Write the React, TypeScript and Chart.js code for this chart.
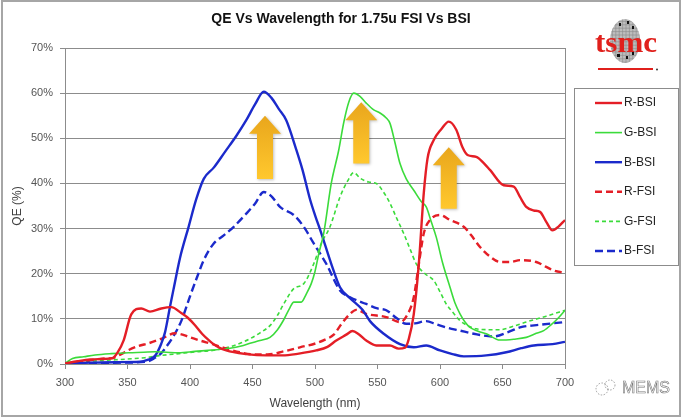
import { useEffect, useRef } from 'react';
import { Chart, registerables } from 'chart.js';

Chart.register(...registerables);

// wavelengths (nm) and QE (%), one pair per curve
const rBsiNm = [300, 310, 320, 330, 338, 342, 347, 353, 361, 368, 377, 385, 393, 398, 404, 410, 415, 421, 429, 445, 461, 474, 487, 501, 510, 517, 525, 530, 535, 541, 549, 560, 567, 572, 575, 579, 583, 587, 590, 595, 601, 607, 613, 618, 622, 629, 635, 640, 651, 659, 664, 669, 675, 680, 685, 690, 695, 700];
const rBsiQe = [0.1, 0.6, 1, 1.1, 1.3, 2.5, 5.3, 11, 12.3, 11.6, 12.3, 12.6, 11.3, 10.3, 8.6, 6.6, 5.3, 4, 3, 2.2, 1.9, 1.9, 2.3, 3, 3.8, 5.2, 6.5, 7.3, 6.6, 5.2, 4.1, 4.1, 3.4, 3.6, 5.5, 11, 22, 37.8, 45.5, 49.6, 52, 53.7, 51.9, 48, 46.3, 45.9, 44.5, 43, 39.6, 39.3, 37, 34.8, 34, 33.7, 31.5, 29.6, 30.5, 31.9];

const gBsiNm = [300, 306, 315, 324, 337, 351, 363, 372, 381, 391, 404, 418, 432, 441, 448, 456, 464, 470, 475, 480, 483, 489, 493, 497, 500, 503, 507, 513, 519, 523, 527, 531, 536, 541, 547, 552, 557, 560, 564, 568, 573, 579, 585, 589, 593, 597, 602, 608, 612, 616, 620, 624, 630, 637, 648, 659, 669, 677, 683, 689, 695, 700];
const gBsiQe = [0.1, 1.2, 1.6, 2, 2.3, 2.5, 2.6, 2.7, 2.6, 2.5, 2.8, 3.1, 3.5, 4, 4.6, 5.2, 5.9, 7.6, 9.8, 12.5, 13.7, 13.7, 15.5, 17.8, 20.5, 24.4, 29, 40, 47.4, 53.5, 58, 60, 59.3, 57.8, 56.3, 55.6, 54.5, 53.3, 49, 44.4, 41, 38.5, 36, 34.8, 31.5, 28.1, 22.5, 17, 13.5, 11.1, 9.3, 8.1, 7.3, 6.7, 5.3, 5.5, 5.9, 6.8, 7.4, 8.7, 10.3, 11.9];

const bBsiNm = [300, 320, 340, 360, 366, 372, 377, 380, 384, 387, 392, 399, 405, 411, 419, 428, 437, 445, 452, 459, 465, 471, 477, 485, 490, 496, 500, 505, 513, 520, 528, 538, 544, 555, 568, 579, 589, 600, 610, 619, 637, 653, 665, 675, 690, 700];
const bBsiQe = [0.1, 0.3, 0.4, 0.5, 0.9, 1.8, 4.5, 7, 12.7, 16.8, 23.5, 30.5, 36.5, 41, 43.5, 47, 50.5, 54, 57.5, 60.3, 59, 56.5, 54, 47.5, 43, 36.5, 33, 29, 22.2, 17, 14.6, 12, 9.5, 6.7, 4.4, 3.7, 4.1, 3, 2.2, 1.7, 1.9, 2.6, 3.5, 4.1, 4.4, 4.9];

const rFsiNm = [300, 312, 322, 330, 338, 345, 351, 359, 367, 378, 388, 394, 399, 408, 418, 428, 440, 452, 462, 475, 488, 501, 508, 515, 521, 528, 533, 541, 557, 568, 573, 579, 583, 587, 592, 600, 608, 619, 625, 632, 640, 648, 656, 664, 677, 685, 691, 700];
const rFsiQe = [0.1, 0.5, 0.9, 1.2, 1.3, 2.2, 3.1, 4, 4.6, 5.7, 6.8, 6.5, 6, 5.2, 4.4, 3.5, 2.6, 2.1, 2.1, 2.8, 3.7, 4.6, 5.4, 6.5, 8.8, 11.1, 12, 11.1, 10.4, 9.3, 10.5, 14.8, 22, 28.9, 31.9, 33, 31.9, 30.4, 28.5, 25.9, 23.8, 22.6, 22.6, 23, 22.6, 21.5, 20.7, 20.2];

const gFsiNm = [300, 311, 325, 338, 350, 364, 377, 391, 405, 418, 432, 441, 448, 456, 464, 470, 475, 483, 491, 499, 505, 512, 520, 526, 531, 536, 543, 549, 555, 560, 565, 571, 576, 581, 588, 595, 600, 605, 611, 616, 622, 629, 640, 648, 658, 669, 685, 700];
const gFsiQe = [0, 0.5, 0.7, 0.9, 1.1, 1.4, 1.9, 2.3, 2.7, 3, 3.8, 4.7, 5.6, 6.9, 8.5, 10.8, 13.3, 16.7, 17.8, 22.2, 26.7, 30.4, 37, 40.5, 42.4, 41.2, 40.3, 40, 38, 35.6, 32.5, 28.9, 25.5, 22.2, 20, 18.5, 16, 13.3, 11.2, 9.6, 8.5, 7.8, 7.6, 7.6, 8.3, 9.3, 10.6, 11.9];

const bFsiNm = [300, 320, 345, 365, 371, 377, 381, 386, 393, 400, 406, 411, 419, 427, 435, 445, 452, 459, 465, 472, 483, 491, 499, 509, 520, 528, 541, 550, 557, 566, 573, 580, 589, 597, 605, 616, 627, 643, 654, 664, 680, 700];
const bFsiQe = [0.1, 0.2, 0.3, 0.5, 1.2, 2.4, 3.8, 5.8, 9.5, 15, 19.5, 23, 26.7, 28.5, 30.4, 33.3, 35.5, 38.1, 37.2, 34.8, 33, 30.4, 26.7, 22.2, 16.3, 14.8, 13.3, 12.3, 11.9, 10, 8.9, 9, 9.5, 8.8, 8.1, 7.4, 6.7, 6.1, 7, 8.1, 8.7, 9.3];

// the three "improvement" arrows: wavelength, base and tip in QE %
const arrowNm = [460, 537, 607];
const arrowFrom = [41, 44.4, 34.4];
const arrowTo = [55, 58, 48];

const RED = '#E41E26';
const GREEN = '#3BDB3B';
const BLUE = '#1B2ACB';
const FONT = 'Arial, "Liberation Sans", sans-serif';

const pts = (nm: number[], qe: number[]) => nm.map((x, i) => ({ x, y: qe[i] }));

const frameLine = {
  id: 'frameLine',
  beforeDatasetsDraw(chart: any) {
    const { ctx, chartArea: a } = chart;
    ctx.save();
    ctx.strokeStyle = '#8c8c8c';
    ctx.lineWidth = 1;
    ctx.beginPath();
    ctx.moveTo(Math.round(a.right) + 0.5, a.top);
    ctx.lineTo(Math.round(a.right) + 0.5, a.bottom);
    ctx.stroke();
    ctx.restore();
  },
};

const arrows = {
  id: 'arrows',
  afterDatasetsDraw(chart: any) {
    const { ctx, scales } = chart;
    ctx.save();
    arrowNm.forEach((nm, i) => {
      const cx = scales.x.getPixelForValue(nm);
      const yb = scales.y.getPixelForValue(arrowFrom[i]);
      const yt = scales.y.getPixelForValue(arrowTo[i]);
      const head = 18, hw = 16, sw = 8;
      const g = ctx.createLinearGradient(0, yt, 0, yb);
      g.addColorStop(0, '#E9A61C');
      g.addColorStop(1, '#FFC82E');
      ctx.shadowColor = 'rgba(0,0,0,0.25)';
      ctx.shadowBlur = 3;
      ctx.shadowOffsetX = 1;
      ctx.shadowOffsetY = 1;
      ctx.fillStyle = g;
      ctx.beginPath();
      ctx.moveTo(cx, yt);
      ctx.lineTo(cx + hw, yt + head);
      ctx.lineTo(cx + sw, yt + head);
      ctx.lineTo(cx + sw, yb);
      ctx.lineTo(cx - sw, yb);
      ctx.lineTo(cx - sw, yt + head);
      ctx.lineTo(cx - hw, yt + head);
      ctx.closePath();
      ctx.fill();
    });
    ctx.restore();
  },
};

const boxLegend = {
  id: 'boxLegend',
  afterDraw(chart: any) {
    const { ctx } = chart;
    ctx.save();
    ctx.strokeStyle = '#8c8c8c';
    ctx.lineWidth = 1;
    ctx.strokeRect(574.5, 88.5, 104, 177);
    ctx.font = `12px ${FONT}`;
    ctx.textBaseline = 'middle';
    ctx.fillStyle = '#222';
    chart.data.datasets.forEach((ds: any, i: number) => {
      const y = 103 + i * 29.6;
      ctx.strokeStyle = ds.borderColor;
      ctx.lineWidth = ds.borderWidth;
      ctx.setLineDash(ds.borderDash || []);
      ctx.beginPath();
      ctx.moveTo(595, y);
      ctx.lineTo(622, y);
      ctx.stroke();
      ctx.setLineDash([]);
      ctx.fillText(ds.label, 624, y);
    });
    ctx.restore();
  },
};

const App = () => {
  const canvasRef = useRef<HTMLCanvasElement>(null);

  useEffect(() => {
    document.body.style.margin = '0';
    if (!canvasRef.current) return;
    const line = (label: string, nm: number[], qe: number[], color: string, width: number, dash?: number[]) => ({
      label,
      data: pts(nm, qe),
      borderColor: color,
      backgroundColor: color,
      borderWidth: width,
      borderDash: dash,
      pointRadius: 0,
      fill: false,
      tension: 0.4,
      cubicInterpolationMode: 'monotone' as const,
    });

    const chart = new Chart(canvasRef.current, {
      type: 'line',
      data: {
        datasets: [
          line('R-BSI', rBsiNm, rBsiQe, RED, 2.4),
          line('G-BSI', gBsiNm, gBsiQe, GREEN, 1.6),
          line('B-BSI', bBsiNm, bBsiQe, BLUE, 2.4),
          line('R-FSI', rFsiNm, rFsiQe, RED, 2.4, [7, 4]),
          line('G-FSI', gFsiNm, gFsiQe, GREEN, 1.6, [4, 3]),
          line('B-FSI', bFsiNm, bFsiQe, BLUE, 2.4, [8, 4]),
        ],
      },
      options: {
        responsive: false,
        animation: false,
        layout: { padding: { top: 48, right: 117, left: 0, bottom: 0 } },
        plugins: { legend: { display: false }, tooltip: { enabled: false } },
        scales: {
          x: {
            type: 'linear',
            min: 300,
            max: 700,
            afterFit: (s: any) => { s.height = 53; },
            ticks: { stepSize: 50, padding: 7, color: '#555', font: { family: FONT, size: 11 } },
            grid: { drawOnChartArea: false, tickLength: 5, color: '#8c8c8c' },
            border: { color: '#8c8c8c' },
            title: { display: true, text: 'Wavelength (nm)', color: '#404040', font: { family: FONT, size: 12 }, padding: { top: 0, bottom: 6 } },
          },
          y: {
            min: 0,
            max: 70,
            afterFit: (s: any) => { s.width = 65; },
            ticks: { stepSize: 10, padding: 7, color: '#555', font: { family: FONT, size: 11 }, callback: (v: any) => `${v}%` },
            grid: { tickLength: 5, color: '#8c8c8c' },
            border: { color: '#8c8c8c' },
            title: { display: true, text: 'QE (%)', color: '#404040', font: { family: FONT, size: 12 }, padding: { top: 10, bottom: 0 } },
          },
        },
      },
      plugins: [frameLine, arrows, boxLegend],
    });
    return () => chart.destroy();
  }, []);

  return (
    <div style={{ position: 'relative', width: 682, height: 417, background: '#fff', overflow: 'hidden' }}>
      <canvas ref={canvasRef} width={682} height={417} style={{ position: 'absolute', left: 0, top: 0 }} />
      <div style={{ position: 'absolute', left: 0, top: 10, width: 682, textAlign: 'center', font: `bold 14px ${FONT}`, lineHeight: '16px', color: '#111' }}>
        QE Vs Wavelength for 1.75u FSI Vs BSI
      </div>
      <svg width={90} height={75} style={{ position: 'absolute', left: 585, top: 5 }}>
        <defs>
          <clipPath id="globe"><ellipse cx={40} cy={36} rx={15} ry={22} /></clipPath>
        </defs>
        <ellipse cx={40} cy={36} rx={15} ry={22} fill="#bdbdbd" />
        <g clipPath="url(#globe)" stroke="#8a8a8a" strokeWidth={0.6}>
          {[0, 1, 2, 3, 4, 5, 6, 7, 8, 9, 10, 11, 12, 13].map((k) => (
            <g key={k}>
              <line x1={24 + k * 3.4} y1={12} x2={24 + k * 3.4} y2={60} />
              <line x1={24} y1={13 + k * 3.4} x2={56} y2={13 + k * 3.4} />
            </g>
          ))}
        </g>
        <g fill="#111">
          <rect x={34} y={18} width={2} height={3} />
          <rect x={42} y={16} width={2} height={3} />
          <rect x={47} y={21} width={2} height={3} />
          <rect x={32} y={49} width={3} height={3} />
          <rect x={41} y={51} width={2} height={3} />
          <rect x={47} y={47} width={2} height={3} />
        </g>
        <text x={41} y={47} textAnchor="middle" textLength={62} lengthAdjust="spacingAndGlyphs"
          style={{ font: 'bold 29px "Liberation Serif", "DejaVu Serif", serif' }} fill="#E0201C">tsmc</text>
        <rect x={13} y={63} width={55} height={2} fill="#E0201C" />
        <circle cx={72} cy={64.5} r={1} fill="#333" />
      </svg>
      <svg width={90} height={30} style={{ position: 'absolute', left: 592, top: 372 }}>
        <g fill="none" stroke="#888" strokeWidth={0.8} strokeDasharray="1.5 1.5">
          <circle cx={10} cy={17} r={6} />
          <circle cx={18} cy={13} r={5} />
        </g>
        <text x={30} y={21} fill="#fff" stroke="#777" strokeWidth={0.6} style={{ font: `16px ${FONT}` }}>MEMS</text>
      </svg>
      <div style={{ position: 'absolute', left: 1, top: 0, width: 680, height: 417, boxSizing: 'border-box', border: '2px solid #a6a6a6', pointerEvents: 'none' }} />
    </div>
  );
};

export default App;
